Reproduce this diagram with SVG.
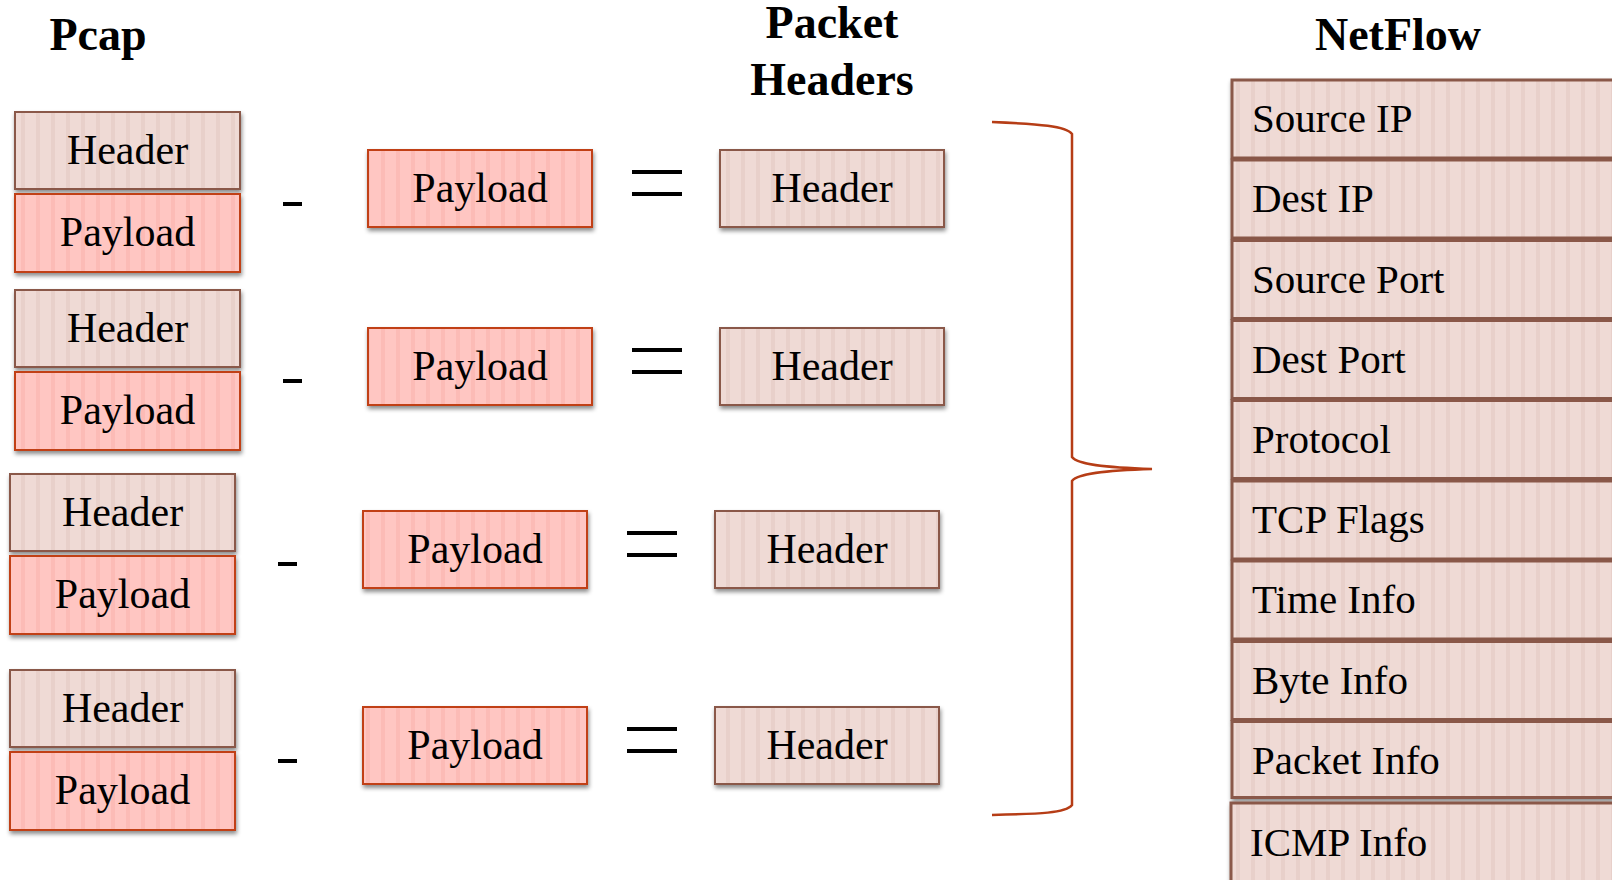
<svg xmlns="http://www.w3.org/2000/svg" width="1612" height="880" viewBox="0 0 1612 880">
<defs>
<pattern id="hdrPat" patternUnits="userSpaceOnUse" width="15" height="20">
<rect width="15" height="20" fill="#efdad5"/>
<rect x="6" width="4" height="20" fill="#e8d0ca"/>
</pattern>
<pattern id="payPat" patternUnits="userSpaceOnUse" width="15" height="20">
<rect width="15" height="20" fill="#ffc6c2"/>
<rect x="6" width="4" height="20" fill="#fcbbb6"/>
</pattern>
<filter id="sh" x="-10%" y="-20%" width="130%" height="150%">
<feDropShadow dx="1" dy="3" stdDeviation="2" flood-color="#000" flood-opacity="0.45"/>
</filter>
</defs>
<style>
.hdr{fill:url(#hdrPat);stroke:#8a5848;stroke-width:2;filter:url(#sh)}
.pay{fill:url(#payPat);stroke:#c13f19;stroke-width:2;filter:url(#sh)}
.nf{fill:url(#hdrPat);stroke:#8a5848;stroke-width:3;filter:url(#sh)}
.t{font-family:"Liberation Serif","DejaVu Serif",serif;font-size:42px;fill:#000;text-anchor:middle}
.nt{font-family:"Liberation Serif","DejaVu Serif",serif;font-size:41px;fill:#000}
.title{font-family:"Liberation Serif","DejaVu Serif",serif;font-size:46px;font-weight:bold;fill:#000;text-anchor:middle}
.op{fill:#000}
</style>
<rect width="1612" height="880" fill="#fff"/>

<g id="titles">
<text class="title" x="98" y="50">Pcap</text>
<text class="title" x="832" y="38">Packet</text>
<text class="title" x="832" y="95">Headers</text>
<text class="title" x="1398" y="50">NetFlow</text>
</g>

<g id="pcap1">
<rect class="hdr" x="15" y="112" width="225" height="77"/>
<text class="t" x="127.5" y="164">Header</text>
<rect class="pay" x="15" y="194" width="225" height="78"/>
<text class="t" x="127.5" y="246">Payload</text>
</g>
<g id="pcap2">
<rect class="hdr" x="15" y="290" width="225" height="77"/>
<text class="t" x="127.5" y="342">Header</text>
<rect class="pay" x="15" y="372" width="225" height="78"/>
<text class="t" x="127.5" y="424">Payload</text>
</g>
<g id="pcap3">
<rect class="hdr" x="10" y="474" width="225" height="77"/>
<text class="t" x="122.5" y="526">Header</text>
<rect class="pay" x="10" y="556" width="225" height="78"/>
<text class="t" x="122.5" y="608">Payload</text>
</g>
<g id="pcap4">
<rect class="hdr" x="10" y="670" width="225" height="77"/>
<text class="t" x="122.5" y="722">Header</text>
<rect class="pay" x="10" y="752" width="225" height="78"/>
<text class="t" x="122.5" y="804">Payload</text>
</g>

<g id="operators">
<rect class="op" x="283" y="202" width="19" height="4"/>
<rect class="op" x="283" y="379" width="19" height="4"/>
<rect class="op" x="278" y="562" width="19" height="4"/>
<rect class="op" x="278" y="759" width="19" height="4"/>
<rect class="op" x="632" y="170" width="50" height="4"/>
<rect class="op" x="632" y="192" width="50" height="4"/>
<rect class="op" x="632" y="348" width="50" height="4"/>
<rect class="op" x="632" y="370" width="50" height="4"/>
<rect class="op" x="627" y="531" width="50" height="4"/>
<rect class="op" x="627" y="553" width="50" height="4"/>
<rect class="op" x="627" y="727" width="50" height="4"/>
<rect class="op" x="627" y="749" width="50" height="4"/>
</g>

<g id="payload1">
<rect class="pay" x="368" y="150" width="224" height="77"/>
<text class="t" x="480" y="202">Payload</text>
</g>
<g id="payload2">
<rect class="pay" x="368" y="328" width="224" height="77"/>
<text class="t" x="480" y="380">Payload</text>
</g>
<g id="payload3">
<rect class="pay" x="363" y="511" width="224" height="77"/>
<text class="t" x="475" y="563">Payload</text>
</g>
<g id="payload4">
<rect class="pay" x="363" y="707" width="224" height="77"/>
<text class="t" x="475" y="759">Payload</text>
</g>

<g id="header1">
<rect class="hdr" x="720" y="150" width="224" height="77"/>
<text class="t" x="832" y="202">Header</text>
</g>
<g id="header2">
<rect class="hdr" x="720" y="328" width="224" height="77"/>
<text class="t" x="832" y="380">Header</text>
</g>
<g id="header3">
<rect class="hdr" x="715" y="511" width="224" height="77"/>
<text class="t" x="827" y="563">Header</text>
</g>
<g id="header4">
<rect class="hdr" x="715" y="707" width="224" height="77"/>
<text class="t" x="827" y="759">Header</text>
</g>

<g id="connectors">
<path d="M992,122 C1040,124 1066,126 1072,134 L1072,457 C1078,466 1120,468 1152,469 C1120,470 1078,472 1072,481 L1072,805 C1066,813 1040,814 992,815" fill="none" stroke="#b63d16" stroke-width="2.5"/>
</g>

<g id="nf-source-ip"><rect class="nf" x="1232" y="80" width="400" height="78"/><text class="nt" x="1252" y="132">Source IP</text></g>
<g id="nf-dest-ip"><rect class="nf" x="1232" y="160" width="400" height="78"/><text class="nt" x="1252" y="212">Dest IP</text></g>
<g id="nf-source-port"><rect class="nf" x="1232" y="240.5" width="400" height="78"/><text class="nt" x="1252" y="292.5">Source Port</text></g>
<g id="nf-dest-port"><rect class="nf" x="1232" y="320.5" width="400" height="78"/><text class="nt" x="1252" y="372.5">Dest Port</text></g>
<g id="nf-protocol"><rect class="nf" x="1232" y="400.5" width="400" height="78"/><text class="nt" x="1252" y="452.5">Protocol</text></g>
<g id="nf-tcp-flags"><rect class="nf" x="1232" y="481" width="400" height="78"/><text class="nt" x="1252" y="533">TCP Flags</text></g>
<g id="nf-time-info"><rect class="nf" x="1232" y="561" width="400" height="78"/><text class="nt" x="1252" y="613">Time Info</text></g>
<g id="nf-byte-info"><rect class="nf" x="1232" y="641.5" width="400" height="78"/><text class="nt" x="1252" y="693.5">Byte Info</text></g>
<g id="nf-packet-info"><rect class="nf" x="1232" y="721.5" width="400" height="76"/><text class="nt" x="1252" y="773.5">Packet Info</text></g>
<g id="nf-icmp-info"><rect class="nf" x="1231" y="803" width="400" height="100"/><text class="nt" x="1250" y="856">ICMP Info</text></g>
</svg>
